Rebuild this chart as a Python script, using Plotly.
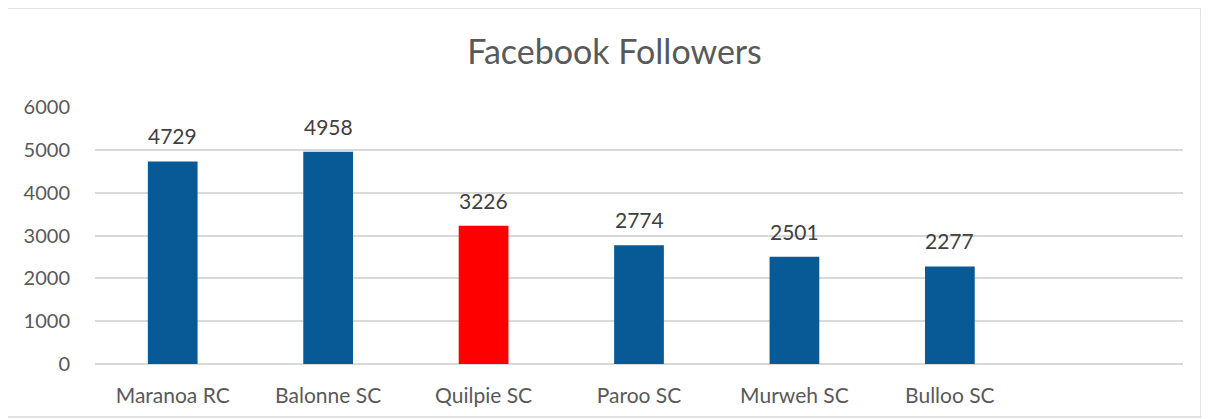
# Facebook Followers bar chart

import plotly.graph_objects as go

councils = ["Maranoa RC", "Balonne SC", "Quilpie SC", "Paroo SC", "Murweh SC", "Bulloo SC", " "]
followers = [4729, 4958, 3226, 2774, 2501, 2277, None]
highlight = "Quilpie SC"

BLUE = "#085A96"
RED = "#FF0000"
FONT = "Lato, 'Open Sans', sans-serif"

colors = [RED if c == highlight else BLUE for c in councils]

fig = go.Figure()
fig.add_bar(x=councils, y=followers, marker=dict(color=colors, line=dict(width=0)),
            hoverinfo="x+y")

# data labels above bars
for c, v in zip(councils, followers):
    if v is None:
        continue
    fig.add_annotation(x=c, y=v, text=str(v), showarrow=False, yanchor="bottom",
                       yshift=11, font=dict(size=21, color="#404040", family=FONT))

# page body adds an 8px margin, so the figure is a bit smaller than the window
W, H = 1201, 411
L, R, T, B = 87, 26, 99, 55
pw, ph = W - L - R, H - T - B

fig.update_layout(
    width=W, height=H,
    margin=dict(l=L, r=R, t=T, b=B),
    paper_bgcolor="white", plot_bgcolor="white",
    bargap=0.68,
    showlegend=False,
    title=dict(text="Facebook Followers", x=0.505, xanchor="center", y=1 - 44 / H, yanchor="middle",
               font=dict(size=34, color="#595959", family=FONT)),
    font=dict(family=FONT, color="#595959"),
    xaxis=dict(showgrid=False, showline=False, ticks="", tickfont=dict(size=21, color="#595959"),
               ticklabelstandoff=17),
    yaxis=dict(range=[0, 6000], dtick=1000, showgrid=True, gridcolor="#D9D9D9", gridwidth=1.5,
               zeroline=True, zerolinecolor="#D9D9D9", zerolinewidth=1.5,
               tickfont=dict(size=20, color="#595959"), ticklabelstandoff=24),
    shapes=[dict(type="rect", xref="paper", yref="paper",
                 x0=(-1 - L) / pw, x1=(1193 - L) / pw,
                 y0=-(B - 2) / ph, y1=(ph + T) / ph,
                 line=dict(color="#D9D9D9", width=1.5), layer="below")],
)

fig.write_html("out.html")
